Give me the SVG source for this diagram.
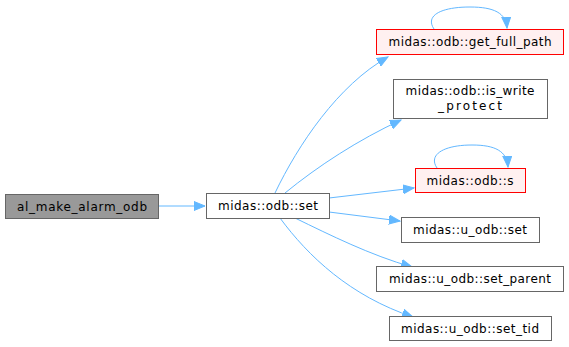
<svg xmlns="http://www.w3.org/2000/svg" width="569" height="347" viewBox="0 0 569 347">
<defs>
<style>
.n rect{fill:#ffffff;stroke:#666666;stroke-width:1}
.n.g rect{fill:#999999}
.n.r rect{fill:#fff0f0;stroke:#ff0000}
.n text{font-family:"DejaVu Sans",sans-serif;font-size:12px;fill:#000000;text-anchor:middle}
#edges path{fill:none;stroke:#63b8ff;stroke-width:1;marker-end:url(#ah)}
</style>
<marker id="ah" markerUnits="userSpaceOnUse" markerWidth="12" markerHeight="10" viewBox="0 0 12 10" refX="11" refY="5" orient="auto">
<path d="M0,0.5 L11,5 L0,9.5 Z" fill="#63b8ff" stroke="#63b8ff"/>
</marker>
</defs>
<rect width="569" height="347" fill="#ffffff"/>
<g id="edges">
<path d="M158,206 L205,206"/>
<path d="M275,193 C298,145 338,85 388,57"/>
<path d="M285,193 C318,166 358,140 401,120"/>
<path d="M329,198 L414,188"/>
<path d="M329,212 L400,221"/>
<path d="M295,218 C330,235 370,255 412,267"/>
<path d="M280,218 C308,256 350,296 413,317"/>
<path d="M434,29 C425,16 440,7 470,7 C494,7 506,13 507,28"/>
<path d="M437,168 C428,155 443,145 472,145 C495,145 507,151 508,167"/>
</g>
<g id="al_make_alarm_odb" class="n g"><rect x="5.5" y="194.5" width="153" height="24"/><text x="82" y="211" textLength="130">al_make_alarm_odb</text></g>
<g id="midas_odb_set" class="n"><rect x="206.5" y="193.5" width="123" height="25"/><text x="268" y="210" textLength="100">midas::odb::set</text></g>
<g id="get_full_path" class="n r"><rect x="376.5" y="29.5" width="187" height="25"/><text x="470" y="46" textLength="163">midas::odb::get_full_path</text></g>
<g id="is_write_protect" class="n"><rect x="393.5" y="79.5" width="154" height="39"/><text x="470" y="95" textLength="129">midas::odb::is_write</text><text x="470" y="110" textLength="64">_protect</text></g>
<g id="midas_odb_s" class="n r"><rect x="415.5" y="168.5" width="110" height="24"/><text x="470" y="185" textLength="87">midas::odb::s</text></g>
<g id="u_odb_set" class="n"><rect x="401.5" y="217.5" width="138" height="25"/><text x="470" y="234" textLength="114">midas::u_odb::set</text></g>
<g id="u_odb_set_parent" class="n"><rect x="376.5" y="266.5" width="187" height="25"/><text x="470" y="283" textLength="162">midas::u_odb::set_parent</text></g>
<g id="u_odb_set_tid" class="n"><rect x="389.5" y="316.5" width="162" height="24"/><text x="470" y="333" textLength="138">midas::u_odb::set_tid</text></g>
</svg>
